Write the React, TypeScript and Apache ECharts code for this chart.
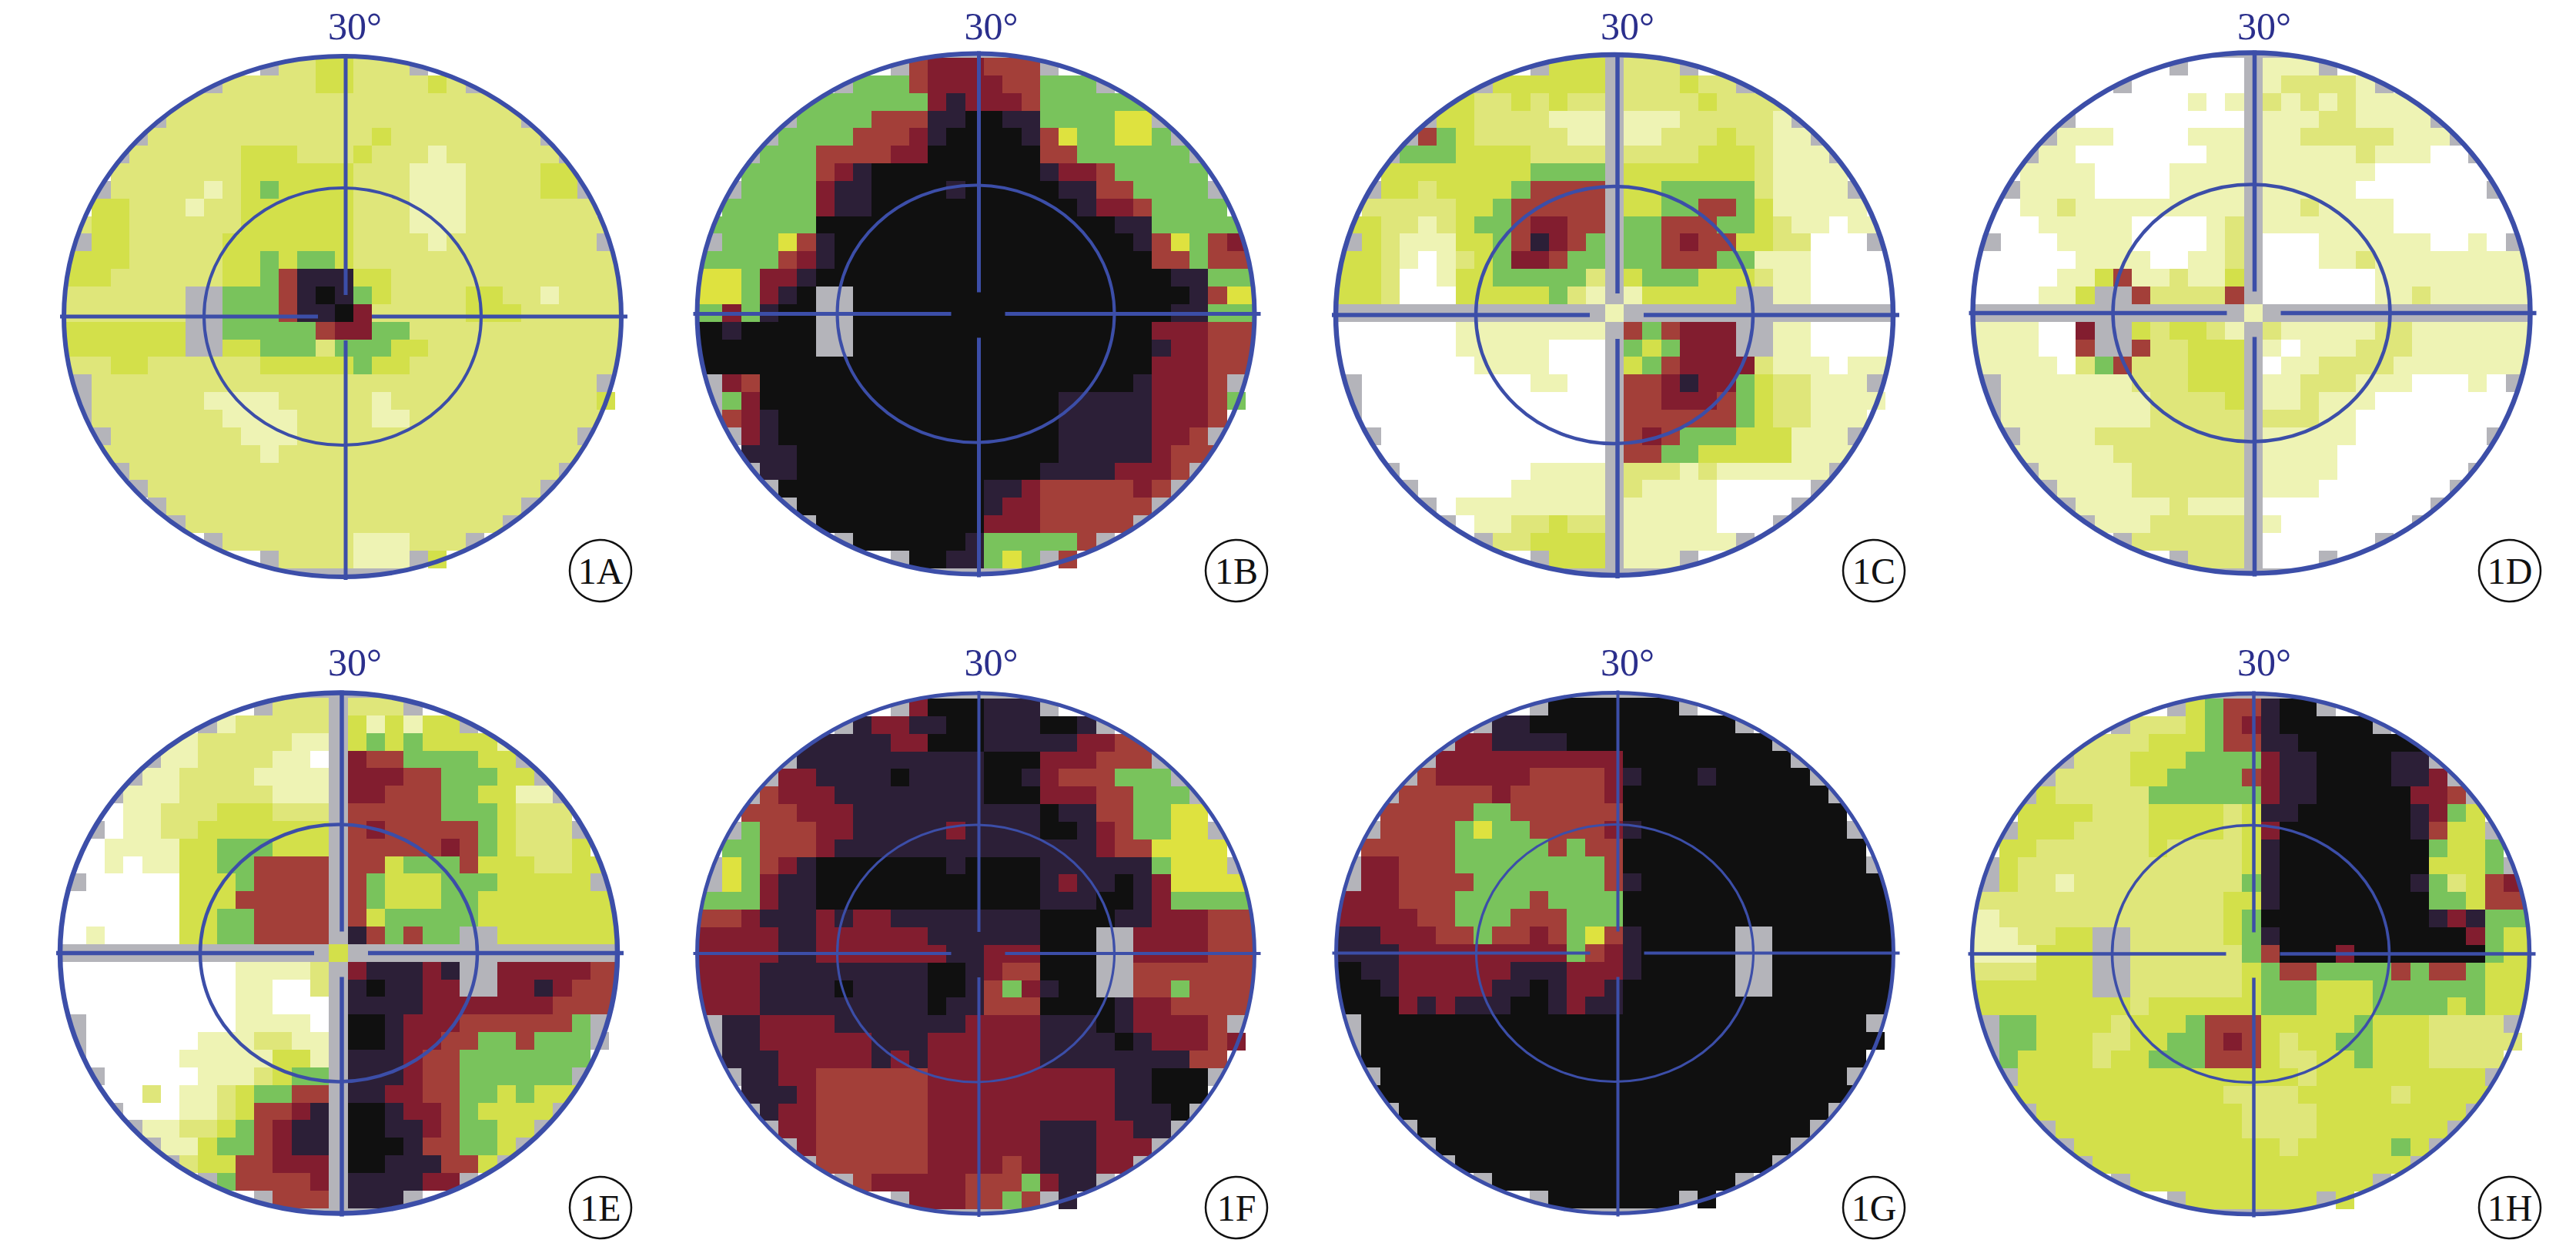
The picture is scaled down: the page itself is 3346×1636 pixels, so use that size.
import React, { useEffect, useRef } from "react";
import * as echarts from "echarts";

// Sensitivity categories of each field cell.
const PALETTE: Record<string, string> = {
  W: "#ffffff", a: "#eef3b4", b: "#dfe67a", c: "#d3e04a", y: "#dee23f", G: "#79c35c",
  R: "#a33f39", D: "#821d2f", P: "#2c1f37", K: "#101010", S: "#b4b4ba",
};
const TICK_LABEL = "30°";
const PANEL_NAMES = ["1A", "1B", "1C", "1D", "1E", "1F", "1G", "1H"];

const field1A = [
  "..........SbbccbbbS..........",
  ".......SbbbbbccbbbbcbS.......",
  ".....bbbbbbbbbbbbbbbbbbb.....",
  "....SbbbbbbbbbbbbbbbbbbbS....",
  "...SbbbbbbbbbbbbcbbbbbbbbS...",
  "..SbbbbbbcccbbbcbbbabbbbbbS..",
  "..bbbbbbbccccccbbbaaabbbbcc..",
  ".SbbbbbabcGccccbbbaaabbbbccS.",
  ".ccbbbabbccccccbbbaaabbbbbbb.",
  "bccbbbbbbccccccbbbaaabbbbbbbb",
  "SccbbbbbcccccccbbbbabbbbbbbbS",
  "cccbbbbbccGcGGcbbbbbbbbbbbbbb",
  "ccbbbbbbccGRPPPccbbbbbbbbbbbb",
  "bbbbbbSSGGGRPKPGcbbbbccbbabbb",
  "bbbbbbSSGGGRPPKDbbbbbcccbbbbb",
  "ccccccSSGGGGGRDDGGbbbbbbbbbbb",
  "ccccccSSccGGGbGGGccbbbbbbbbbb",
  "bbccbbbbbbcccccGccbbbbbbbbbbb",
  "SbbbbbbbbbbbbbbbbbbbbbbbbbbbS",
  "Sbbbbbbaaaabbbbbabbbbbbbbbbbc",
  "Sbbbbbbbaaaabbbbaabbbbbbbbbbb",
  ".SbbbbbbbaaabbbbbbbbbbbbbbbS.",
  ".bbbbbbbbbabbbbbbbbbbbbbbbbb.",
  "..SbbbbbbbbbbbbbbbbbbbbbbbS..",
  "...SbbbbbbbbbbbbbbbbbbbbbS...",
  "....SbbbbbbbbbbbbbbbbbbbS....",
  ".....SbbbbbbbbbbbbbbbbbS.....",
  ".......SbbbbbbbaaabbbS.......",
  "..........SbbbbaaaSc.........",
];
const field1B = [
  "..........SRDDDRRRS..........",
  ".......SGGGRDDDDRRGGGS.......",
  ".....GGGGGGGDPDDDRGGGGGG.....",
  "....SGGGGRRRPPKKPPGGGGyyS....",
  "...SGGGGRRRDPKKKKPRyGGyyGS...",
  "..SGGGRRRRDDKKKKKKRRGGGGGGS..",
  "..GGGGRDPKKKKKKKKKPDDRGGGGG..",
  ".SGGGGDPPKKKKPKKKKKPPRRGGGGS.",
  ".GGGGGDPPKKKKKKKKKKKPDDRGGGG.",
  "GGGGGGKKKKKKKKKKKKKKKKPPGGGGG",
  "SGGGyRPKKKKKKKKKKKKKKKKPRyGRD",
  "GGGGRDPKKKKKKKKKKKKKKKKKRRGRR",
  "yyGDDPKKKKKKKKKKKKKKKKKKKPPGG",
  "yyGDPKSSKKKKKKKKKKKKKKKKKKPRy",
  "GDGPKKSSKKKKKKKKKKKKKKKKKPPGG",
  "KPKKKKSSKKKKKKKKKKKKKKKKDDDRR",
  "KKKKKKSSKKKKKKKKKKKKKKKKPDDRR",
  "KKKKKKKKKKKKKKKKKKKKKKKKDDDRR",
  "SDRKKKKKKKKKKKKKKKKKKKKPDDDRS",
  "SGDKKKKKKKKKKKKKKKKPPPPPDDDRG",
  "SRDPKKKKKKKKKKKKKKKPPPPPDDDR.",
  ".SDPKKKKKKKKKKKKKKKPPPPPDDRS.",
  "..PPPKKKKKKKKKKKKKKPPPPPDRRR.",
  "..SPPKKKKKKKKKKKKKPPPPDDDRS..",
  "...SKKKKKKKKKKKPPDRRRRRDRS...",
  "....SKKKKKKKKKKPDDRRRRRRS....",
  ".....SKKKKKKKKKDDDRRRRRS.....",
  ".......SKKKKKKPGGGGGRS.......",
  "..........SKKPPGyGSR.........",
];
const field1C = [
  "..........ScccSbbbS..........",
  ".......SccccccSbbbcbbS.......",
  ".....ccbbcbcbbSbbbbcbbbb.....",
  "....SccbbbbaaaSaaabbbbbaS....",
  "...SRGcbbbbbaaSaabbbcbbaaS...",
  "..SGGGccccbbbbSbbbbcccbaaaS..",
  "..ccccccccGGGGScccccccbaaaa..",
  ".SccbccccGRRRRSccGGGGGbaaaaS.",
  ".bbbbbccGRRRRRSccGGRRGcaaaaa.",
  "ccbbabcGGRDDRRSGGRRRGGcbaaWaa",
  "ScbaaaccGRPDRGSGGRDRRccbbWWWS",
  "ccbaWabcGDDRGGSGGRRRGGaaaWWWW",
  "ccbWWaccGGGGGbScGGGcccbaaWWWW",
  "ccbWWWcccccGbaSacccccSSaaWWWW",
  "SSSSSSSSSSSSSSaSSSSSSSSSSSSSS",
  "WWWWWWaaaaaaaaSRGRDDDSSaaWWWW",
  "WWWWWWaaaaaWWWSGcGDDDSSaaWWWW",
  "WWWWWWWaaaaWWWScGRDDDDbaaaWaa",
  "SWWWWWWWWWaaWWSRRDPDDGcbbaaaS",
  "SWWWWWWWWWWWWWSRRDDDRGcbbaaaa",
  "SWWWWWWWWWWWWWSRRRRRRGcbbaaa.",
  ".SWWWWWWWWWWWWSRDRGGGcccaaaS.",
  ".WWWWWWWWWWWWWSRRGGcccccaaaa.",
  "..SWWWWWWWaaaaSbbbabaaaaaaS..",
  "...SWWWWWaaaaaSbaaaaWWWWWS...",
  "....SWaaaaaaaaSaaaaaWWWWS....",
  ".....SWaabbcbbSaaaaaWWWS.....",
  ".......SbbccccSaaaaaaS.......",
  "..........ScccSaaaS..........",
];
const field1D = [
  "..........SWWWSaaaS..........",
  ".......SWWWWWWSabbbbaS.......",
  ".....WWWWWWaWaSbababaaaa.....",
  "....SWWWWWWWWWSaaabbaaaaS....",
  "...SaaaWWWWaaaSaabbbbbaaaS...",
  "..SaaWWWWWWWaaSaaaaabaaaWWS..",
  "..aaaaWWWWaaaaSaaaaaaWWWWWW..",
  ".SaaaaWWWWaaaaSaaaaaWWWWWWWS.",
  ".WaabaaaaaaaaaSaabaaaaWWWWWW.",
  "WWWaaaaaWWWWabSaaaaaaaWWWWWWW",
  "SWWWaaaaWWWWabSWWWaaaaaaWWaWS",
  "WWWWWaaaaWWaabSWWWaabaaaaaaaa",
  "WWWWaacRaabaacSWWWWWWaaaaaaaa",
  "WWWaacSSRbbbbRSWWWWWWaabaaaaa",
  "SSSSSSSSSSSSSSaSSSSSSSSSSSSSS",
  "aaaWWDSScbccbaSbaaaaabbaaaaaa",
  "aaaWWRSSRbbcccSaWaaabbbaaaaaa",
  "aaaaWbGRbbbcccSWaabbbbaaaaaaa",
  "SaaaaaaabbbcccSaabbbaaaWWWaWS",
  "SaaaaaaaabbbbcSaabaaaWWWWWWW.",
  "SaaaaaaaabbbbbSbbbaaWWWWWWWW.",
  ".SaaaabbbbbbbbSaaaaaWWWWWWWS.",
  ".aaaaaabbbbbbbSaaaaWWWWWWWWW.",
  "..SaaaaabbbbbbSaaaaWWWWWWWS..",
  "...SaaaabbbbbbSaaaWWWWWWWS...",
  "....SaaaaabaaaSWWWWWWWWWS....",
  ".....SaaabbbbbSaWWWWWWWS.....",
  ".......SbbbbbbSWWWWWWS.......",
  "..........SbbbSWWWS..........",
];
const field1E = [
  "..........SbbbSbbbS..........",
  ".......SabbbbbScacaccS.......",
  ".....aabbbbbaaScGcGcccca.....",
  "....SaabbbbaaWSDRRGGGGccS....",
  "...SaabbbbaaaaSDDDRRGGGccS...",
  "..SaaabbbbbaaaSDDRRRGGccaaS..",
  "..WaabbbcccbbbSRRRRRGGGcbbb..",
  ".SWaabbcccccccSRDRRRRRGcbbbS.",
  ".WaaaaccGGGcccSRRRRRDRGcbbbc.",
  "WWaWaaccGGRRRRSRRcGGGRcccbbcc",
  "SWWWWWcccGRRRRSRGcccGGGcccccS",
  "WWWWWWcccRRRRRSRGcccGGccccccc",
  "WWWWWWccGGRRRRSRcGGGGGccccccc",
  "WaWWWWccGGRRRRSPRGRGGSScccccc",
  "SSSSSSSSSSSSSScSSSSSSSSSSSSSS",
  "WWWWWWWWWaaaabSDPPPDPSSDDDDDR",
  "WWWWWWWWWaaWWbSPKPPDDSSDDPDRR",
  "WWWWWWWWWaaWWWSPPPPDDDDDDDRRR",
  "SWWWWWWWWaaaaWSKKPDDDRRRRRRGS",
  "SWWWWWWaaabbaaSKKPDDRRGGRGGGS",
  "SWWWWWaaaaaccaSPPPDRRGGGGGGG.",
  ".SWWWWWaaabcGGSPPPDRRGGGGGGS.",
  ".WWWbWaabcGGRRSPPDDRRGGcGccc.",
  "..SWWWaabcRRDPSKKPDDRGccccS..",
  "...SaabbcGRDPPSKKPPDRGGccS...",
  "....SaacGGRDPPSKKKPRRGGcS....",
  ".....SbccRRDDDSKKPPPRRcS.....",
  ".......SGRRRRDSPPPPDDS.......",
  "..........SRRRSPPPS..........",
];
const field1F = [
  "..........SDKKKPPPS..........",
  ".......SPDDPPKKPPPKKPS.......",
  ".....PPPPPDDKKKPPPPPDDRR.....",
  "....SPPPPPPPPPPKKKDDDRRRS....",
  "...SDDPPPPKPPPPKKPDRRRGGGS...",
  "..SRDDDPPPPPPPPKKKDDDRRGGGS..",
  "..RRRDDDPPPPPPPPPPKPPRRGGyy..",
  ".SGRRRDDPPPPPDPPPPKKPDRGGyyS.",
  ".GGRRRDPPPPPPPPPPPPPPDRRyyyy.",
  "SyGRDPKKKKKKKPKKKKPPPPPPGyyyS",
  "SyGDPPKKKKKKKKKKKKPDPPKPDyyyy",
  "GGGDPPKKKKKKKKKKKKPPPKKPDGGGG",
  "RRDPPPDPDDPPPPPPPPKKKKPPDDDRR",
  "DDDDPPDDDDDDPPPPPPKKKSSDDDDRR",
  "DDDDPPDDDDDDDPPDDDKKKSSDDDDRR",
  "DDDPPPPPPPPPKKPDRRKKKSSRRRRRR",
  "DDDPPPPKPPPPKKPRGDPKKSSRRGRRR",
  "DDDPPPPPPPPPKPPRRRKKKKPDDRRRR",
  "SPPDDDDPPPPPPPDDDDPPPKPDDDDRS",
  "SPPDDDDDDPPPDDDDDDPPPPKPDDDRD",
  "SPPPDDDDDPDPDDDDDDPPPPPPPPRR.",
  ".SPPDDRRRRRRDDDDDDDDDDPPKKKS.",
  "..PPPDRRRRRRDDDDDDDDDDPPKKK..",
  "..SPDDRRRRRRDDDDDDDDDDPPPKS..",
  "...SDDRRRRRRDDDDDDPPPDDPPS...",
  "....SDRRRRRRDDDDDDPPPDDDS....",
  ".....SRRRRRRDDDDRDPPPDDS.....",
  ".......SRDDDDDRRRGDPPS.......",
  "..........SDDDRRGRSP.........",
];
const field1G = [
  "..........SKKKKKKKS..........",
  ".......SPPKKKKKKKKKKKS.......",
  ".....SDDPPPPKKKKKKKKKKKS.....",
  "....SDDDDDDDDDDKKKKKKKKKS....",
  "...SRDDDDDRRRRDPKKKPKKKKKS...",
  "..SRRRRRDRRRRRDKKKKKKKKKKKS..",
  "..RRRRRGGRRRRRRKKKKKKKKKKKK..",
  ".SRRRRGyGGRRRRDPKKKKKKKKKKKS.",
  ".RRRRRGGGGGRGRRKKKKKKKKKKKKK.",
  "SDDRRRGGGGGGGGRKKKKKKKKKKKKKS",
  "SDDRRRRGGGGGGGRPKKKKKKKKKKKKK",
  "DDDRRRGGGGRGGGGKKKKKKKKKKKKKK",
  "DDDDRRGGGRRRGGGKKKKKKKKKKKKKK",
  "PPDDDRRGRRDRGyRPKKKKKSSKKKKKK",
  "PPPDDDDDDDDDGRDPKKKKKSSKKKKKK",
  "KPPDDDDDDPPPDDDPKKKKKSSKKKKKK",
  "KKPDDDDDPPKPDDPKKKKKKSSKKKKKK",
  "KKKDPDPPPKKPDPPKKKKKKKKKKKKKK",
  "SKKKKKKKKKKKKKKKKKKKKKKKKKKKS",
  "SKKKKKKKKKKKKKKKKKKKKKKKKKKKK",
  "SKKKKKKKKKKKKKKKKKKKKKKKKKKK.",
  ".SKKKKKKKKKKKKKKKKKKKKKKKKKS.",
  ".KKKKKKKKKKKKKKKKKKKKKKKKKKK.",
  "..SKKKKKKKKKKKKKKKKKKKKKKKS..",
  "...SKKKKKKKKKKKKKKKKKKKKKS...",
  "....SKKKKKKKKKKKKKKKKKKKS....",
  ".....SKKKKKKKKKKKKKKKKKS.....",
  ".......SKKKKKKKKKKKKKS.......",
  "..........SKKKKKKKSK.........",
];
const field1H = [
  "..........ScGRRPKKS..........",
  ".......SbbbcGRDPKKKKKS.......",
  ".....bbbbcccGRRPPKKKKKKK.....",
  "....SbbbcccGGGGDPPKKKKPPS....",
  "...SbbbbccGGGGRDPPKKKKPPDS...",
  "..ScbbbbbGGGGGGDPPKKKKKDDRS..",
  "..ccccbbbccccbcPPKKKKKKPDGc..",
  ".ScccbbbbccccbcDKKKKKKKPRccS.",
  ".ccbbbbbbcbbbbcPKKKKKKKKGccG.",
  "ScbbbbbbbbbbbbcPKKKKKKKKcccGS",
  "ScbbabbbbbbbbbGPKKKKKKKPGbcRD",
  "bbbbbbbbbbbbbccPKKKKKKKKGGcRR",
  "abbbbbbbbbbbbcGKKKKKKKKKPDPGG",
  "aabbccSSbbbbbcGPKKKKKKKKKKDGc",
  "aaacccSSbbbbbbGRKKKDKKKKKKKGc",
  "bbbcccSSbbbbbbcGRRGGGGRGRRGcc",
  "ccccccSSbbbbbbcGGGcccGGGGGGcc",
  "ccccccccbccccccGGGcccGGGGcGcc",
  "SGGccccbcccGRRRcccccGcccbbbbS",
  "SGGcccbbccGGRDRcbccGGcccbbbbb",
  "SGccccbccGGGRRRcbbccGcccbbbb.",
  ".ScccccccccccccccbcccccccccS.",
  ".ccccccccccccbbbbcccccbccccc.",
  "..ScccccccccccbbbbccccccccS..",
  "...SccccccccccbbbbcccccccS...",
  "....ScccccccccccbcccccGcS....",
  ".....ScccccccccccccccccS.....",
  ".......ScccccccccccccS.......",
  "..........ScccccccSc.........",
];
const FIELDS = [field1A, field1B, field1C, field1D, field1E, field1F, field1G, field1H];

// Page layout, in px.
const W = 3346;
const H = 1636;
const GRID_W = 703.8;
const GRID_H = 662.6;
const N = 29;
const GRID_LEFT = [95, 914, 1745, 2575, 87.5, 914, 1744, 2572.5];
const GRID_TOP = [75, 75, 75, 75, 906, 907, 906, 907];
const CROSS_X = [449, 1271.5, 2101, 2928.5, 444, 1271.5, 2101.5, 2927.5];
const CROSS_Y = [411, 407.5, 409, 406.5, 1237.5, 1238, 1237.5, 1238.5];
const LINE_W = [4.5, 4.5, 5, 5, 5, 3.5, 3.5, 4];
const TITLE_X = [461, 1287.5, 2114, 2941, 461, 1287.5, 2114, 2941];
const TITLE_Y = [34, 34, 34, 34, 860, 860, 860, 860];
const BADGE_X = [780, 1606, 2434, 3260, 780, 1606, 2434, 3260];
const BADGE_Y = [741, 741, 741, 741, 1568, 1568, 1568, 1568];

const BLUE = "#3c4ea8";
const KEYS = Object.keys(PALETTE);

echarts.graphic.registerShape(
  "fieldMask",
  echarts.graphic.extendPath(
    "M-110 -110 H110 V110 H-110 Z M100 0 A100 100 0 1 0 -100 0 A100 100 0 1 0 100 0 Z",
    {}
  )
);

function cellsOf(rows: string[]) {
  const out: number[][] = [];
  rows.forEach((row, r) => {
    for (let c = 0; c < row.length; c++) {
      const ch = row[c];
      if (ch === ".") continue;
      const k = KEYS.indexOf(ch);
      out.push([c, r, k]);
      // the last grid columns run on to the field's outline
      if (c === 0) out.push([-1, r, k]);
      if (c === row.length - 1) out.push([N, r, k]);
    }
  });
  const gray = KEYS.indexOf("S");
  for (let c = 9; c <= 19; c++) {
    out.push([c, -1, gray]);
    out.push([c, N, gray]);
  }
  return out;
}

function spillOf(rows: string[]) {
  const out: number[][] = [];
  ([[28, 19], [19, 28]] as number[][]).forEach(([c, r]) => {
    const ch = rows[r][c];
    if (ch && ch !== ".") out.push([c, r, KEYS.indexOf(ch)]);
  });
  return out;
}

const renderCell = (_: any, api: any) => {
  const c = api.value(0);
  const r = api.value(1);
  const p0 = api.coord([c, r]);
  const p1 = api.coord([c + 1, r + 1]);
  const x = Math.round(p0[0]);
  const y = Math.round(p0[1]);
  return {
    type: "rect",
    shape: { x, y, width: Math.round(p1[0]) - x, height: Math.round(p1[1]) - y },
    style: { fill: PALETTE[KEYS[api.value(2)]] },
  };
};

function buildOption() {
  const grid: any[] = [];
  const xAxis: any[] = [];
  const yAxis: any[] = [];
  const series: any[] = [];
  const graphic: any[] = [];

  FIELDS.forEach((rows, i) => {
    grid.push({ left: GRID_LEFT[i], top: GRID_TOP[i], width: GRID_W, height: GRID_H });
    xAxis.push({ type: "value", gridIndex: i, min: 0, max: N, show: false });
    yAxis.push({ type: "value", gridIndex: i, min: 0, max: N, inverse: true, show: false });
    series.push({
      type: "custom", name: PANEL_NAMES[i], xAxisIndex: i, yAxisIndex: i, silent: true, z: 2,
      renderItem: renderCell, data: cellsOf(rows), encode: { x: 0, y: 1 },
    });
    series.push({
      type: "custom", name: PANEL_NAMES[i] + " edge", xAxisIndex: i, yAxisIndex: i, silent: true, z: 20,
      renderItem: renderCell, data: spillOf(rows), encode: { x: 0, y: 1 },
    });

    const cx = CROSS_X[i];
    const cy = CROSS_Y[i];
    const ex = cx - 4;
    const lw = LINE_W[i];
    graphic.push({ type: "fieldMask", x: ex, y: cy, scaleX: 362 / 100, scaleY: 338 / 100, z: 10, silent: true, style: { fill: "#ffffff" } });
    graphic.push({ type: "ellipse", z: 30, silent: true, shape: { cx: ex, cy, rx: 362, ry: 338 }, style: { fill: "none", stroke: BLUE, lineWidth: lw + 1.5 } });
    graphic.push({ type: "ellipse", z: 30, silent: true, shape: { cx: ex, cy, rx: 180, ry: 167 }, style: { fill: "none", stroke: BLUE, lineWidth: lw * 0.9 } });
    [
      [cx - 371, cy, cx - 36, cy],
      [cx + 34, cy, cx + 366, cy],
      [cx, cy - 341, cx, cy - 28],
      [cx, cy + 31, cx, cy + 342],
    ].forEach(([x1, y1, x2, y2]) => {
      graphic.push({ type: "line", z: 30, silent: true, shape: { x1, y1, x2, y2 }, style: { stroke: BLUE, lineWidth: lw + 0.5 } });
    });
    graphic.push({
      type: "text", z: 40, silent: true, x: TITLE_X[i], y: TITLE_Y[i],
      style: { text: TICK_LABEL, fill: "#2b2f8c", fontFamily: "Liberation Serif", fontSize: 50, align: "center", verticalAlign: "middle" },
    });
    graphic.push({
      type: "circle", z: 40, silent: true, shape: { cx: BADGE_X[i], cy: BADGE_Y[i], r: 40 },
      style: { fill: "#ffffff", stroke: "#111111", lineWidth: 2.5 },
    });
    graphic.push({
      type: "text", z: 41, silent: true, x: BADGE_X[i], y: BADGE_Y[i],
      style: { text: PANEL_NAMES[i], fill: "#111111", fontFamily: "Liberation Serif", fontSize: 48, align: "center", verticalAlign: "middle" },
    });
  });

  return { animation: false, backgroundColor: "#ffffff", tooltip: { show: false }, grid, xAxis, yAxis, series, graphic };
}

export default function App() {
  const ref = useRef<HTMLDivElement>(null);
  useEffect(() => {
    document.body.style.margin = "0";
    const chart = echarts.init(ref.current!, undefined, { renderer: "svg", width: W, height: H });
    chart.setOption(buildOption());
    return () => chart.dispose();
  }, []);
  return <div ref={ref} style={{ position: "absolute", left: 0, top: 0, width: W, height: H }} />;
}
